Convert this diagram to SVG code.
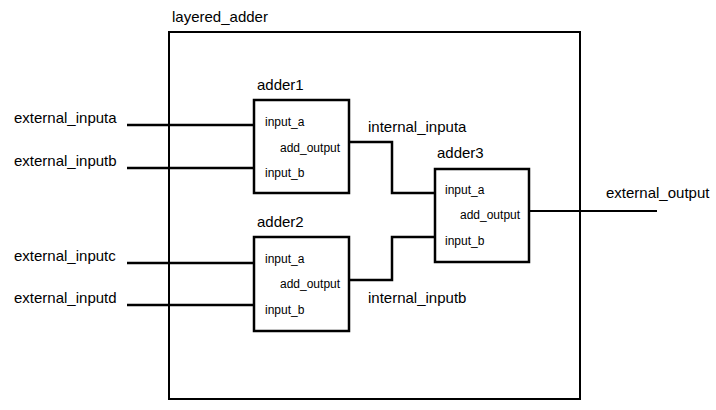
<svg xmlns="http://www.w3.org/2000/svg" width="716" height="410" viewBox="0 0 716 410">
<style>
.big{font-family:"Liberation Sans",Arial,sans-serif;font-size:15px;fill:#000}
.small{font-family:"Liberation Sans",Arial,sans-serif;font-size:12px;fill:#000}
.box{fill:#fff;stroke:#000;stroke-width:2.5}
.wire{fill:none;stroke:#000;stroke-width:2.5}
</style>
<rect width="716" height="410" fill="#fff"/>
<g id="layered_adder">
<rect x="169" y="32" width="411" height="367" fill="#fff" stroke="#000" stroke-width="2"/>
<text class="big" x="172" y="22">layered_adder</text>
</g>
<g id="connectors">
<line class="wire" x1="127" y1="125" x2="254" y2="125"/>
<line class="wire" x1="127" y1="168" x2="254" y2="168"/>
<line class="wire" x1="127" y1="263" x2="254" y2="263"/>
<line class="wire" x1="127" y1="305" x2="254" y2="305"/>
<polyline class="wire" points="349,142 392,142 392,193 435,193"/>
<polyline class="wire" points="349,280 392,280 392,237 435,237"/>
<line x1="529" y1="211" x2="657" y2="211" stroke="#000" stroke-width="1.8"/>
</g>
<g id="adder1">
<rect class="box" x="254" y="100" width="95" height="93"/>
<text class="big" x="257" y="90">adder1</text>
<text class="small" x="265" y="126">input_a</text>
<text class="small" x="280" y="152">add_output</text>
<text class="small" x="265" y="177">input_b</text>
</g>
<g id="adder2">
<rect class="box" x="254" y="237" width="95" height="94"/>
<text class="big" x="257" y="227">adder2</text>
<text class="small" x="265" y="263">input_a</text>
<text class="small" x="280" y="288">add_output</text>
<text class="small" x="265" y="314">input_b</text>
</g>
<g id="adder3">
<rect class="box" x="435" y="169" width="94" height="93"/>
<text class="big" x="437" y="158">adder3</text>
<text class="small" x="445" y="194">input_a</text>
<text class="small" x="460" y="219">add_output</text>
<text class="small" x="445" y="245">input_b</text>
</g>
<g id="labels">
<text class="big" x="14" y="123">external_inputa</text>
<text class="big" x="14" y="166">external_inputb</text>
<text class="big" x="14" y="261">external_inputc</text>
<text class="big" x="14" y="303">external_inputd</text>
<text class="big" x="368" y="132">internal_inputa</text>
<text class="big" x="368" y="303">internal_inputb</text>
<text class="big" x="606" y="198">external_output</text>
</g>
</svg>
